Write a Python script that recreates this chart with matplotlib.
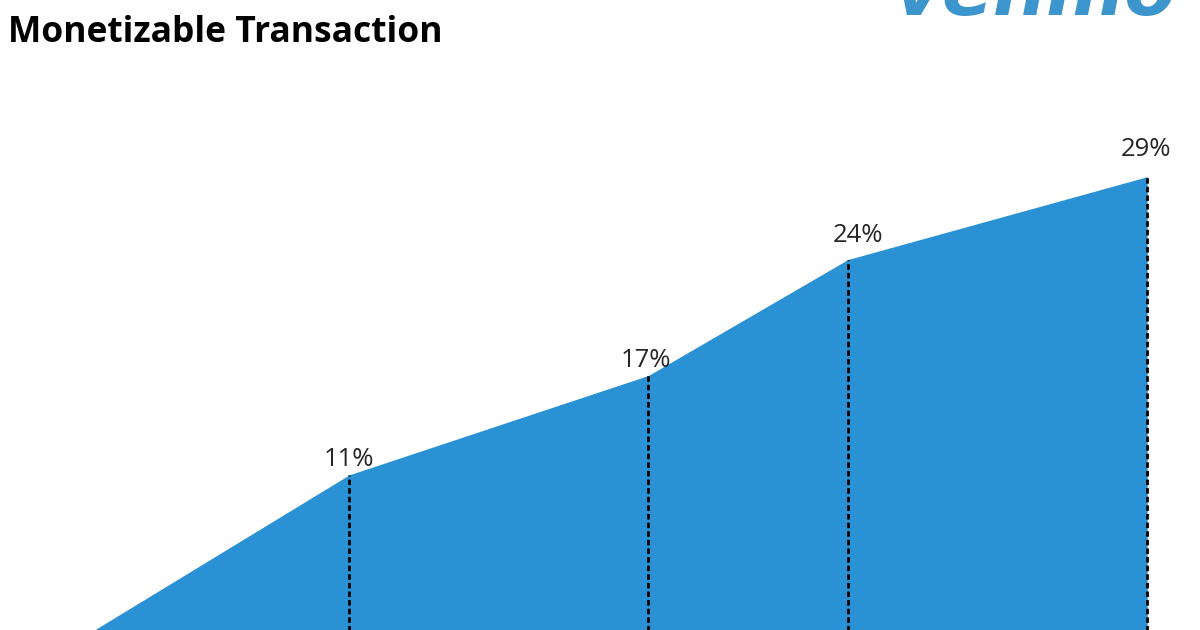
import matplotlib.pyplot as plt

# ================================
# DATA
# ================================

periods = [0, 6, 12, 16, 22]
share = [0, 11, 17, 24, 29]
labels = ["", "11%", "17%", "24%", "29%"]
# label offsets from the vertex, in points (x, y)
label_offsets = [(0, 0), (0, 11), (-2, 11), (7, 17), (-1, 19.5)]

fill_color = "#2A91D4"
logo_color = "#3D95CE"

# ================================
# PLOT
# ================================

fig = plt.figure(figsize=(12, 6.3), dpi=100)
ax = fig.add_axes([0, 0, 1, 1])
ax.set_xlim(-1.003, 23.06)
ax.set_ylim(1.63, 39.67)
ax.axis("off")

ax.fill_between(periods, 0, share, color=fill_color, linewidth=0)
ax.vlines(periods[1:], 0, share[1:], colors="black",
          linestyles=(0, (2.0, 1.1)), linewidth=2.0)

for xv, yv, lab, off in zip(periods, share, labels, label_offsets):
    if not lab:
        continue
    ax.annotate(lab, (xv, yv), xytext=off, textcoords="offset points",
                ha="center", va="center", fontsize=18.5,
                family="Open Sans", color="#262626")

fig.text(8 / 1200, 1 - 33 / 630, "Monetizable Transaction",
         ha="left", va="center", fontsize=25.5, fontweight="bold",
         family="Open Sans", color="black")

# venmo logo, cut off by the top edge
fig.text(893 / 1200, 1 - 15 / 630, "venmo", ha="left", va="baseline",
         fontsize=54, fontweight="bold", fontstyle="oblique",
         family="DejaVu Sans", color=logo_color)

fig.savefig("out.png", dpi=100)
